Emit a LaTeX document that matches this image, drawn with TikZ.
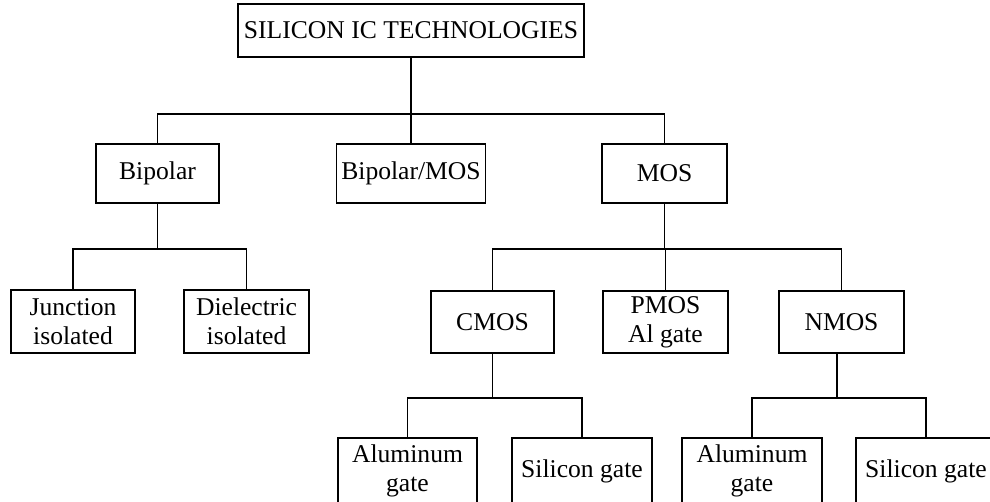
\documentclass[tikz,border=0pt]{standalone}
\usepackage{fontspec}
\setmainfont{Liberation Serif}
\usetikzlibrary{positioning}

\tikzset{
    box/.style={draw, line width=1.7pt, align=center, inner sep=0pt,
                font=\fontsize{25.6}{29}\selectfont},
    link/.style={line width=1.7pt}
}

\begin{document}
\begin{tikzpicture}[x=1pt, y=-1pt]
    \useasboundingbox (0,0) rectangle (990,501);

    % Nodes {top, level 1, level 2, level 3}
    \node [box, minimum width=346, minimum height=53]   (tech)   at (411,30.5)    {SILICON IC TECHNOLOGIES};

    \node [box, minimum width=123, minimum height=59]   (bip)    at (157.5,173.5) {Bipolar};
    \node [box, minimum width=149, minimum height=59]   (bipmos) at (411,173.5)   {Bipolar/MOS};
    \node [box, minimum width=125, minimum height=59]   (mos)    at (664.5,173.5) {MOS};

    \node [box, minimum width=124, minimum height=63]   (junc)   at (73,321.5)    {Junction\\isolated};
    \node [box, minimum width=125, minimum height=63]   (diel)   at (246.5,321.5) {Dielectric\\isolated};
    \node [box, minimum width=123, minimum height=62]   (cmos)   at (492.5,322)   {CMOS};
    \node [box, minimum width=125, minimum height=62]   (pmos)   at (665.5,322)   {PMOS\\Al gate};
    \node [box, minimum width=125, minimum height=62]   (nmos)   at (841.5,322)   {NMOS};

    \node [box, minimum width=139, minimum height=66]   (calu)   at (407.5,471)   {Aluminum\\gate};
    \node [box, minimum width=140, minimum height=66]   (csi)    at (582,471)     {Silicon gate};
    \node [box, minimum width=140, minimum height=66]   (nalu)   at (752,471)     {Aluminum\\gate};
    \node [box, minimum width=140, minimum height=66]   (nsi)    at (926,471)     {Silicon gate};

    % Rows of the branch lines
    \coordinate (r0) at (0,114);
    \coordinate (r1) at (0,249);
    \coordinate (r2) at (0,398);

    % Paths
    \draw [link] (tech.south) -- (tech.south |- r0);
    \draw [link] (bip.north) |- (tech.south |- r0) -| (mos.north);
    \draw [link] (bipmos.north) -- (bipmos.north |- r0);

    \draw [link] (bip.south) -- (bip.south |- r1);
    \draw [link] (junc.north) |- (bip.south |- r1) -| (diel.north);

    \draw [link] (mos.south) -- (mos.south |- r1);
    \draw [link] (cmos.north) |- (mos.south |- r1) -| (nmos.north);
    \draw [link] (pmos.north) -- (pmos.north |- r1);

    \draw [link] (cmos.south) -- (cmos.south |- r2);
    \draw [link] (calu.north) |- (cmos.south |- r2) -| (csi.north);

    \draw [link] ([xshift=-4.5pt]nmos.south) -- ([xshift=-4.5pt]nmos.south |- r2);
    \draw [link] (nalu.north) |- ([xshift=-4.5pt]nmos.south |- r2) -| (nsi.north);
\end{tikzpicture}
\end{document}
